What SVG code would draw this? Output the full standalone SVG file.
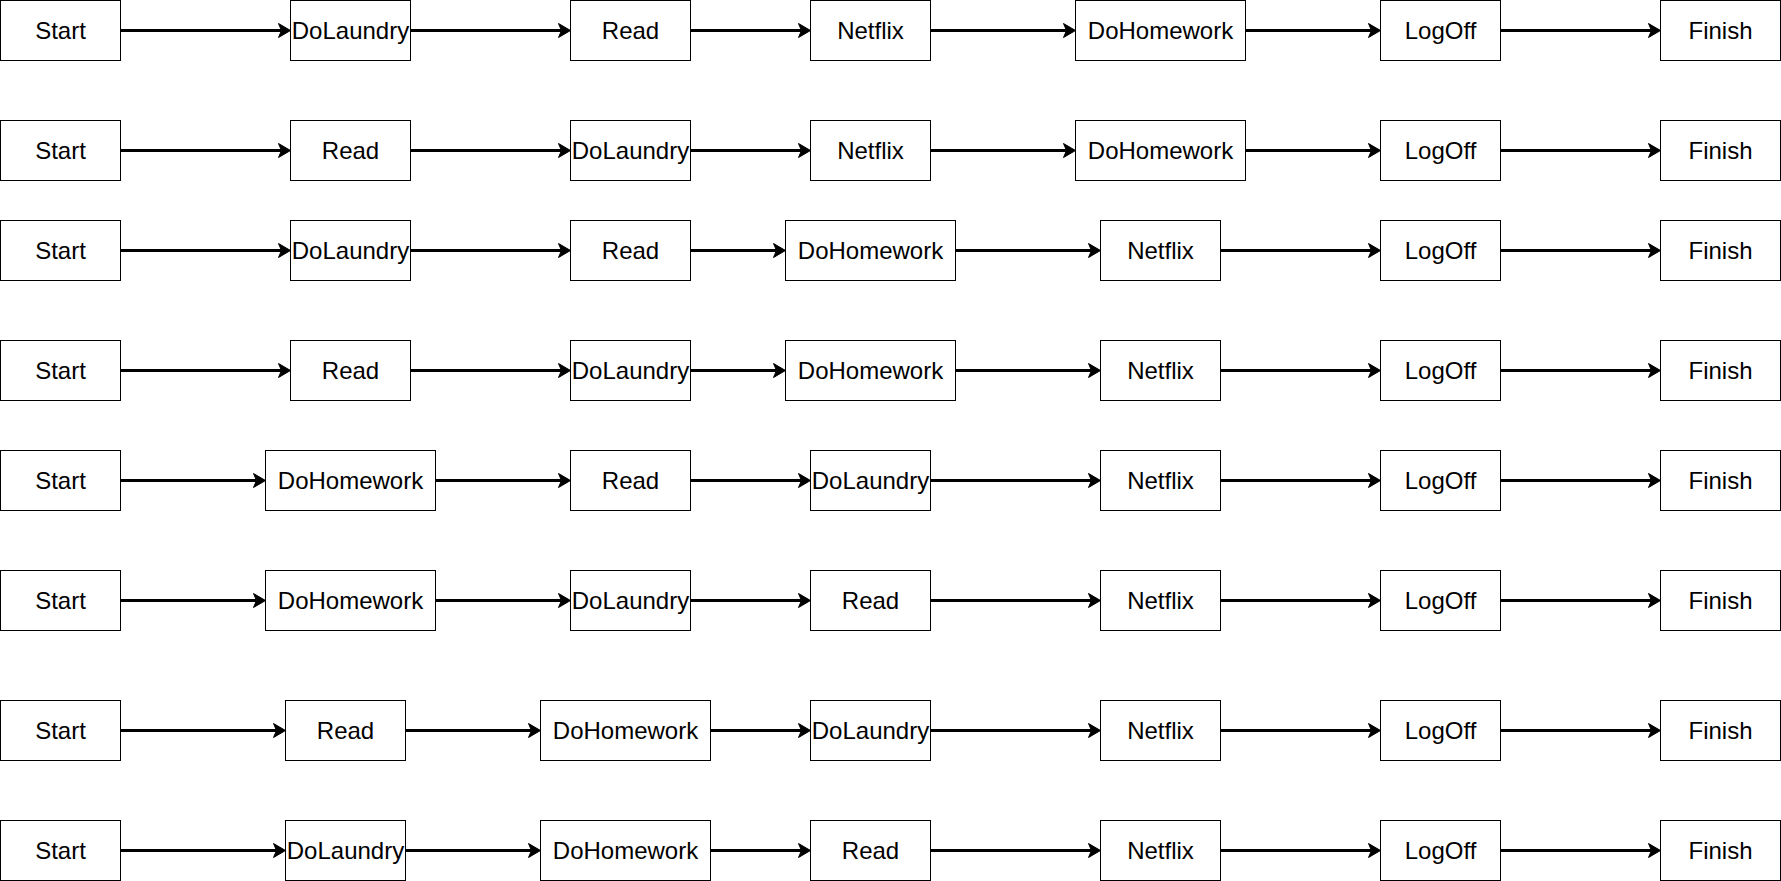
<svg xmlns="http://www.w3.org/2000/svg" width="1781" height="881" viewBox="0 0 1781 881">
<style>
.n rect{fill:#fff;stroke:#000;stroke-width:1}
.n text{font-family:"Liberation Sans",Arial,sans-serif;font-size:24px;fill:#000;text-anchor:middle}
.e path{fill:none;stroke:#000;stroke-width:3;marker-end:url(#arr)}
</style>
<defs>
<marker id="arr" markerUnits="userSpaceOnUse" markerWidth="14" markerHeight="16" refX="3" refY="7" orient="auto" overflow="visible">
<path d="M0,0 L12,7 L0,14 L3,7 Z" fill="#000" stroke="#000" stroke-width="1" stroke-linejoin="miter"/>
</marker>
</defs>
<rect width="1781" height="881" fill="#fff"/>
<g id="connectors" class="e">
<path d="M120.5,30.5H281.5"/><path d="M410.5,30.5H561.5"/><path d="M690.5,30.5H801.5"/><path d="M930.5,30.5H1066.5"/><path d="M1245.5,30.5H1371.5"/><path d="M1500.5,30.5H1651.5"/>
<path d="M120.5,150.5H281.5"/><path d="M410.5,150.5H561.5"/><path d="M690.5,150.5H801.5"/><path d="M930.5,150.5H1066.5"/><path d="M1245.5,150.5H1371.5"/><path d="M1500.5,150.5H1651.5"/>
<path d="M120.5,250.5H281.5"/><path d="M410.5,250.5H561.5"/><path d="M690.5,250.5H776.5"/><path d="M955.5,250.5H1091.5"/><path d="M1220.5,250.5H1371.5"/><path d="M1500.5,250.5H1651.5"/>
<path d="M120.5,370.5H281.5"/><path d="M410.5,370.5H561.5"/><path d="M690.5,370.5H776.5"/><path d="M955.5,370.5H1091.5"/><path d="M1220.5,370.5H1371.5"/><path d="M1500.5,370.5H1651.5"/>
<path d="M120.5,480.5H256.5"/><path d="M435.5,480.5H561.5"/><path d="M690.5,480.5H801.5"/><path d="M930.5,480.5H1091.5"/><path d="M1220.5,480.5H1371.5"/><path d="M1500.5,480.5H1651.5"/>
<path d="M120.5,600.5H256.5"/><path d="M435.5,600.5H561.5"/><path d="M690.5,600.5H801.5"/><path d="M930.5,600.5H1091.5"/><path d="M1220.5,600.5H1371.5"/><path d="M1500.5,600.5H1651.5"/>
<path d="M120.5,730.5H276.5"/><path d="M405.5,730.5H531.5"/><path d="M710.5,730.5H801.5"/><path d="M930.5,730.5H1091.5"/><path d="M1220.5,730.5H1371.5"/><path d="M1500.5,730.5H1651.5"/>
<path d="M120.5,850.5H276.5"/><path d="M405.5,850.5H531.5"/><path d="M710.5,850.5H801.5"/><path d="M930.5,850.5H1091.5"/><path d="M1220.5,850.5H1371.5"/><path d="M1500.5,850.5H1651.5"/>
</g>
<!-- Row 1 -->
<g id="r1-start" class="n" transform="translate(0,0)"><rect x="0.5" y="0.5" width="120" height="60"/><text x="60.5" y="38.5">Start</text></g>
<g id="r1-dolaundry" class="n" transform="translate(290,0)"><rect x="0.5" y="0.5" width="120" height="60"/><text x="60.5" y="38.5">DoLaundry</text></g>
<g id="r1-read" class="n" transform="translate(570,0)"><rect x="0.5" y="0.5" width="120" height="60"/><text x="60.5" y="38.5">Read</text></g>
<g id="r1-netflix" class="n" transform="translate(810,0)"><rect x="0.5" y="0.5" width="120" height="60"/><text x="60.5" y="38.5">Netflix</text></g>
<g id="r1-dohomework" class="n" transform="translate(1075,0)"><rect x="0.5" y="0.5" width="170" height="60"/><text x="85.5" y="38.5">DoHomework</text></g>
<g id="r1-logoff" class="n" transform="translate(1380,0)"><rect x="0.5" y="0.5" width="120" height="60"/><text x="60.5" y="38.5">LogOff</text></g>
<g id="r1-finish" class="n" transform="translate(1660,0)"><rect x="0.5" y="0.5" width="120" height="60"/><text x="60.5" y="38.5">Finish</text></g>
<!-- Row 2 -->
<g id="r2-start" class="n" transform="translate(0,120)"><rect x="0.5" y="0.5" width="120" height="60"/><text x="60.5" y="38.5">Start</text></g>
<g id="r2-read" class="n" transform="translate(290,120)"><rect x="0.5" y="0.5" width="120" height="60"/><text x="60.5" y="38.5">Read</text></g>
<g id="r2-dolaundry" class="n" transform="translate(570,120)"><rect x="0.5" y="0.5" width="120" height="60"/><text x="60.5" y="38.5">DoLaundry</text></g>
<g id="r2-netflix" class="n" transform="translate(810,120)"><rect x="0.5" y="0.5" width="120" height="60"/><text x="60.5" y="38.5">Netflix</text></g>
<g id="r2-dohomework" class="n" transform="translate(1075,120)"><rect x="0.5" y="0.5" width="170" height="60"/><text x="85.5" y="38.5">DoHomework</text></g>
<g id="r2-logoff" class="n" transform="translate(1380,120)"><rect x="0.5" y="0.5" width="120" height="60"/><text x="60.5" y="38.5">LogOff</text></g>
<g id="r2-finish" class="n" transform="translate(1660,120)"><rect x="0.5" y="0.5" width="120" height="60"/><text x="60.5" y="38.5">Finish</text></g>
<!-- Row 3 -->
<g id="r3-start" class="n" transform="translate(0,220)"><rect x="0.5" y="0.5" width="120" height="60"/><text x="60.5" y="38.5">Start</text></g>
<g id="r3-dolaundry" class="n" transform="translate(290,220)"><rect x="0.5" y="0.5" width="120" height="60"/><text x="60.5" y="38.5">DoLaundry</text></g>
<g id="r3-read" class="n" transform="translate(570,220)"><rect x="0.5" y="0.5" width="120" height="60"/><text x="60.5" y="38.5">Read</text></g>
<g id="r3-dohomework" class="n" transform="translate(785,220)"><rect x="0.5" y="0.5" width="170" height="60"/><text x="85.5" y="38.5">DoHomework</text></g>
<g id="r3-netflix" class="n" transform="translate(1100,220)"><rect x="0.5" y="0.5" width="120" height="60"/><text x="60.5" y="38.5">Netflix</text></g>
<g id="r3-logoff" class="n" transform="translate(1380,220)"><rect x="0.5" y="0.5" width="120" height="60"/><text x="60.5" y="38.5">LogOff</text></g>
<g id="r3-finish" class="n" transform="translate(1660,220)"><rect x="0.5" y="0.5" width="120" height="60"/><text x="60.5" y="38.5">Finish</text></g>
<!-- Row 4 -->
<g id="r4-start" class="n" transform="translate(0,340)"><rect x="0.5" y="0.5" width="120" height="60"/><text x="60.5" y="38.5">Start</text></g>
<g id="r4-read" class="n" transform="translate(290,340)"><rect x="0.5" y="0.5" width="120" height="60"/><text x="60.5" y="38.5">Read</text></g>
<g id="r4-dolaundry" class="n" transform="translate(570,340)"><rect x="0.5" y="0.5" width="120" height="60"/><text x="60.5" y="38.5">DoLaundry</text></g>
<g id="r4-dohomework" class="n" transform="translate(785,340)"><rect x="0.5" y="0.5" width="170" height="60"/><text x="85.5" y="38.5">DoHomework</text></g>
<g id="r4-netflix" class="n" transform="translate(1100,340)"><rect x="0.5" y="0.5" width="120" height="60"/><text x="60.5" y="38.5">Netflix</text></g>
<g id="r4-logoff" class="n" transform="translate(1380,340)"><rect x="0.5" y="0.5" width="120" height="60"/><text x="60.5" y="38.5">LogOff</text></g>
<g id="r4-finish" class="n" transform="translate(1660,340)"><rect x="0.5" y="0.5" width="120" height="60"/><text x="60.5" y="38.5">Finish</text></g>
<!-- Row 5 -->
<g id="r5-start" class="n" transform="translate(0,450)"><rect x="0.5" y="0.5" width="120" height="60"/><text x="60.5" y="38.5">Start</text></g>
<g id="r5-dohomework" class="n" transform="translate(265,450)"><rect x="0.5" y="0.5" width="170" height="60"/><text x="85.5" y="38.5">DoHomework</text></g>
<g id="r5-read" class="n" transform="translate(570,450)"><rect x="0.5" y="0.5" width="120" height="60"/><text x="60.5" y="38.5">Read</text></g>
<g id="r5-dolaundry" class="n" transform="translate(810,450)"><rect x="0.5" y="0.5" width="120" height="60"/><text x="60.5" y="38.5">DoLaundry</text></g>
<g id="r5-netflix" class="n" transform="translate(1100,450)"><rect x="0.5" y="0.5" width="120" height="60"/><text x="60.5" y="38.5">Netflix</text></g>
<g id="r5-logoff" class="n" transform="translate(1380,450)"><rect x="0.5" y="0.5" width="120" height="60"/><text x="60.5" y="38.5">LogOff</text></g>
<g id="r5-finish" class="n" transform="translate(1660,450)"><rect x="0.5" y="0.5" width="120" height="60"/><text x="60.5" y="38.5">Finish</text></g>
<!-- Row 6 -->
<g id="r6-start" class="n" transform="translate(0,570)"><rect x="0.5" y="0.5" width="120" height="60"/><text x="60.5" y="38.5">Start</text></g>
<g id="r6-dohomework" class="n" transform="translate(265,570)"><rect x="0.5" y="0.5" width="170" height="60"/><text x="85.5" y="38.5">DoHomework</text></g>
<g id="r6-dolaundry" class="n" transform="translate(570,570)"><rect x="0.5" y="0.5" width="120" height="60"/><text x="60.5" y="38.5">DoLaundry</text></g>
<g id="r6-read" class="n" transform="translate(810,570)"><rect x="0.5" y="0.5" width="120" height="60"/><text x="60.5" y="38.5">Read</text></g>
<g id="r6-netflix" class="n" transform="translate(1100,570)"><rect x="0.5" y="0.5" width="120" height="60"/><text x="60.5" y="38.5">Netflix</text></g>
<g id="r6-logoff" class="n" transform="translate(1380,570)"><rect x="0.5" y="0.5" width="120" height="60"/><text x="60.5" y="38.5">LogOff</text></g>
<g id="r6-finish" class="n" transform="translate(1660,570)"><rect x="0.5" y="0.5" width="120" height="60"/><text x="60.5" y="38.5">Finish</text></g>
<!-- Row 7 -->
<g id="r7-start" class="n" transform="translate(0,700)"><rect x="0.5" y="0.5" width="120" height="60"/><text x="60.5" y="38.5">Start</text></g>
<g id="r7-read" class="n" transform="translate(285,700)"><rect x="0.5" y="0.5" width="120" height="60"/><text x="60.5" y="38.5">Read</text></g>
<g id="r7-dohomework" class="n" transform="translate(540,700)"><rect x="0.5" y="0.5" width="170" height="60"/><text x="85.5" y="38.5">DoHomework</text></g>
<g id="r7-dolaundry" class="n" transform="translate(810,700)"><rect x="0.5" y="0.5" width="120" height="60"/><text x="60.5" y="38.5">DoLaundry</text></g>
<g id="r7-netflix" class="n" transform="translate(1100,700)"><rect x="0.5" y="0.5" width="120" height="60"/><text x="60.5" y="38.5">Netflix</text></g>
<g id="r7-logoff" class="n" transform="translate(1380,700)"><rect x="0.5" y="0.5" width="120" height="60"/><text x="60.5" y="38.5">LogOff</text></g>
<g id="r7-finish" class="n" transform="translate(1660,700)"><rect x="0.5" y="0.5" width="120" height="60"/><text x="60.5" y="38.5">Finish</text></g>
<!-- Row 8 -->
<g id="r8-start" class="n" transform="translate(0,820)"><rect x="0.5" y="0.5" width="120" height="60"/><text x="60.5" y="38.5">Start</text></g>
<g id="r8-dolaundry" class="n" transform="translate(285,820)"><rect x="0.5" y="0.5" width="120" height="60"/><text x="60.5" y="38.5">DoLaundry</text></g>
<g id="r8-dohomework" class="n" transform="translate(540,820)"><rect x="0.5" y="0.5" width="170" height="60"/><text x="85.5" y="38.5">DoHomework</text></g>
<g id="r8-read" class="n" transform="translate(810,820)"><rect x="0.5" y="0.5" width="120" height="60"/><text x="60.5" y="38.5">Read</text></g>
<g id="r8-netflix" class="n" transform="translate(1100,820)"><rect x="0.5" y="0.5" width="120" height="60"/><text x="60.5" y="38.5">Netflix</text></g>
<g id="r8-logoff" class="n" transform="translate(1380,820)"><rect x="0.5" y="0.5" width="120" height="60"/><text x="60.5" y="38.5">LogOff</text></g>
<g id="r8-finish" class="n" transform="translate(1660,820)"><rect x="0.5" y="0.5" width="120" height="60"/><text x="60.5" y="38.5">Finish</text></g>
</svg>
